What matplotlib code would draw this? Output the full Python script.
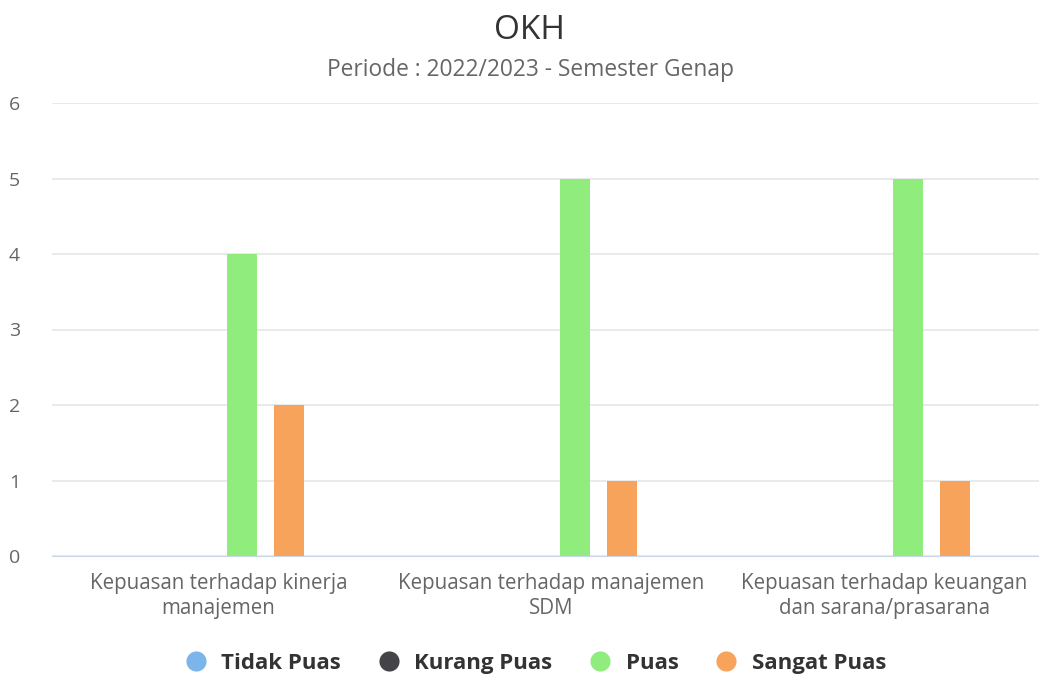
import matplotlib.pyplot as plt
import numpy as np
from matplotlib.lines import Line2D

plt.rcParams['font.family'] = ['Open Sans', 'DejaVu Sans']

categories = ["Kepuasan terhadap kinerja\nmanajemen",
              "Kepuasan terhadap manajemen\nSDM",
              "Kepuasan terhadap keuangan\ndan sarana/prasarana"]
series_names = ["Tidak Puas", "Kurang Puas", "Puas", "Sangat Puas"]
tidak_puas = [0, 0, 0]
kurang_puas = [0, 0, 0]
puas = [4, 5, 5]
sangat_puas = [2, 1, 1]
colors = ["#7cb5ec", "#434348", "#90ed7d", "#f7a35c"]

fig = plt.figure(figsize=(10.39, 6.77), dpi=100)
ax = fig.add_axes([52/1039, 121/677, 999/1039, 453/677])

x = np.arange(len(categories))
slot = 0.141
width = 0.09
for i, vals in enumerate([tidak_puas, kurang_puas, puas, sangat_puas]):
    ax.bar(x + (i - 1.5) * slot, vals, width, color=colors[i], linewidth=0, zorder=3)

ax.set_xlim(-0.5, 2.5)
ax.set_ylim(0, 6)
ax.set_yticks(range(7))
ax.grid(axis='y', color='#e6e6e6', linewidth=1.2, zorder=0)
for s in ['top', 'right', 'left']:
    ax.spines[s].set_visible(False)
ax.spines['bottom'].set_color('#ccd6eb')
ax.tick_params(axis='both', length=0, labelcolor='#666666')
ax.tick_params(axis='y', pad=23, labelsize=14)
ax.tick_params(axis='x', pad=12, labelsize=14.8)
ax.set_xticks(x)
ax.set_xticklabels(categories, linespacing=1.3)

fig.text(0.51, 0.955, "OKH", ha='center', va='center', fontsize=24, color='#333333')
fig.text(0.511, 0.897, "Periode : 2022/2023 - Semester Genap", ha='center', va='center',
         fontsize=16.4, color='#666666')

handles = [Line2D([], [], marker='o', linestyle='', markersize=14.5,
                  markerfacecolor=c, markeredgewidth=0) for c in colors]
leg = fig.legend(handles, series_names, loc='center', bbox_to_anchor=(0.51, 0.02),
                 ncol=4, frameon=False, handletextpad=0.15, columnspacing=1.15,
                 prop={'weight': 'bold', 'size': 16})
for t in leg.get_texts():
    t.set_color('#333333')

fig.savefig("out.png", dpi=100)
